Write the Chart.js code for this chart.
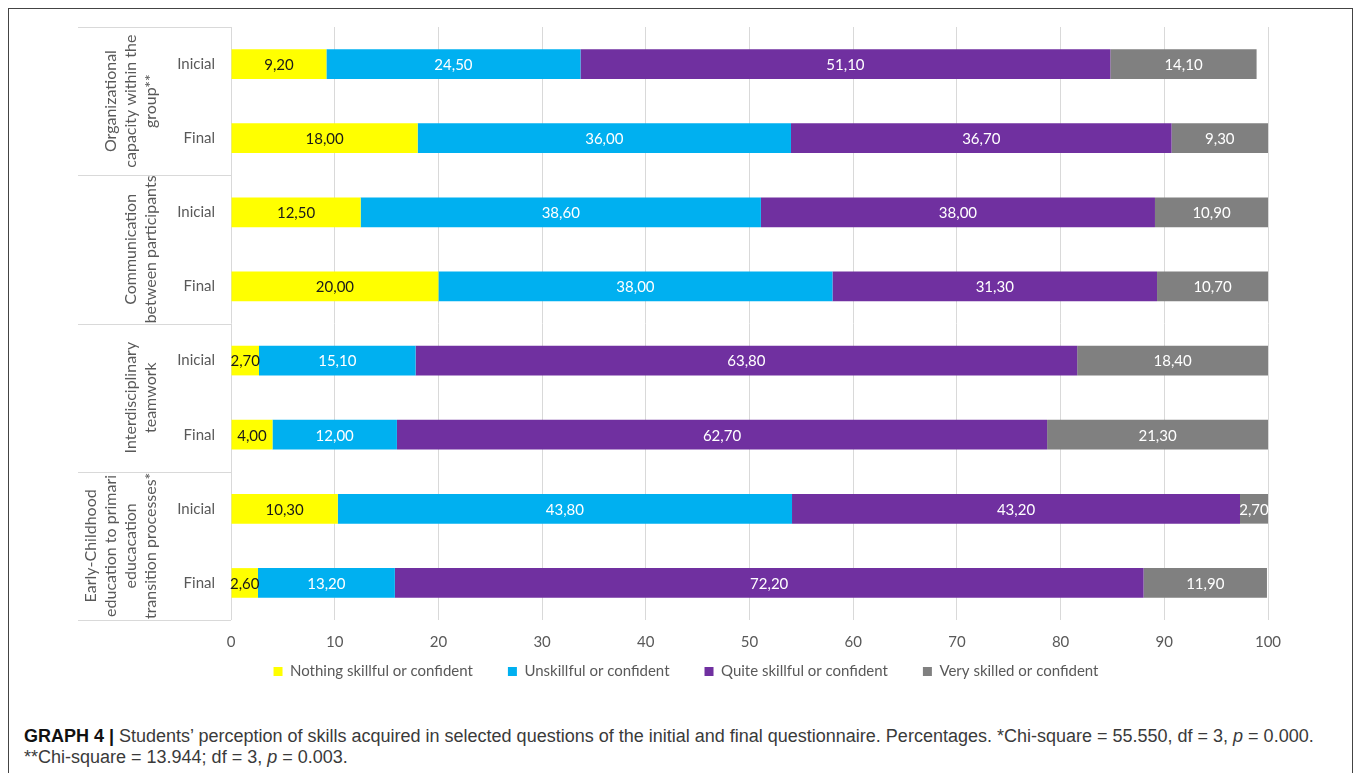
<!DOCTYPE html>
<html>
<head>
<meta charset="utf-8">
<script src="https://cdn.jsdelivr.net/npm/chart.js@4.4.1/dist/chart.umd.min.js"></script>
<style>
  html, body { margin: 0; padding: 0; background: #fff; }
  body { width: 1357px; height: 773px; position: relative; overflow: hidden; }
  #frame { position: absolute; left: 8px; top: 8px; width: 1345px; height: 800px; border: 1px solid #444; box-sizing: border-box; }
  #wrap { position: absolute; left: 0; top: 0; width: 1357px; height: 710px; }
  #caption { position: absolute; left: 24px; top: 726px; font-family: "Liberation Sans", Arial, sans-serif; font-size: 18px; line-height: 21px; color: #3a3a3a; white-space: nowrap; }
  #caption b { color: #111; }
</style>
</head>
<body>
<div id="frame"></div>
<div id="wrap"><canvas id="chart"></canvas></div>
<div id="caption"><b>GRAPH 4 |</b> Students’ perception of skills acquired in selected questions of the initial and final questionnaire. Percentages. *Chi-square = 55.550, df = 3, <i>p</i> = 0.000.<br>**Chi-square = 13.944; df = 3, <i>p</i> = 0.003.</div>
<script>
const categories = ['Inicial', 'Final', 'Inicial', 'Final', 'Inicial', 'Final', 'Inicial', 'Final'];
const groupLabels = [
  ['Organizational', 'capacity within the', 'group**'],
  ['Communication', 'between participants'],
  ['Interdisciplinary', 'teamwork'],
  ['Early-Childhood', 'education to primari', 'educacation', 'transition processes*']
];
const seriesNames = ['Nothing skillful or confident', 'Unskillful or confident', 'Quite skillful or confident', 'Very skilled or confident'];
const nothingSkillful = [9.2, 18.0, 12.5, 20.0, 2.7, 4.0, 10.3, 2.6];
const unskillful = [24.5, 36.0, 38.6, 38.0, 15.1, 12.0, 43.8, 13.2];
const quiteSkillful = [51.1, 36.7, 38.0, 31.3, 63.8, 62.7, 43.2, 72.2];
const verySkilled = [14.1, 9.3, 10.9, 10.7, 18.4, 21.3, 2.7, 11.9];
const xTicks = [0, 10, 20, 30, 40, 50, 60, 70, 80, 90, 100];

const barColors = ['#ffff00', '#00b0f0', '#7030a0', '#808080'];
const labelColors = ['#1a1a1a', '#ffffff', '#ffffff', '#ffffff'];
const chartFont = 'Lato';

// numbers in the bars, comma as decimal separator
const valueLabels = {
  id: 'valueLabels',
  afterDatasetsDraw(chart) {
    const { ctx } = chart;
    ctx.save();
    ctx.font = `15px ${chartFont}`;
    ctx.textAlign = 'center';
    ctx.textBaseline = 'middle';
    chart.data.datasets.forEach((ds, di) => {
      chart.getDatasetMeta(di).data.forEach((bar, i) => {
        ctx.fillStyle = labelColors[di];
        ctx.fillText(ds.data[i].toFixed(2).replace('.', ','), (bar.x + bar.base) / 2, bar.y + 1);
      });
    });
    ctx.restore();
  },
};

// rotated group names + separator lines on the left
const groupAxis = {
  id: 'groupAxis',
  afterDraw(chart) {
    const { ctx, chartArea } = chart;
    const y = chart.scales.y;
    const left = chartArea.left - 153;
    const edge = (i) => {
      if (i === 0) return chartArea.top;
      if (i === categories.length) return chartArea.bottom;
      return (y.getPixelForValue(i - 1) + y.getPixelForValue(i)) / 2;
    };
    ctx.save();
    ctx.strokeStyle = '#d9d9d9';
    ctx.lineWidth = 1;
    for (let g = 0; g <= groupLabels.length; g++) {
      const py = Math.round(edge(g * 2)) + 0.5;
      ctx.beginPath();
      ctx.moveTo(left, py);
      ctx.lineTo(chartArea.left, py);
      ctx.stroke();
    }
    ctx.fillStyle = '#595959';
    ctx.font = `16px ${chartFont}`;
    ctx.textAlign = 'center';
    ctx.textBaseline = 'middle';
    groupLabels.forEach((lines, g) => {
      const cy = (edge(g * 2) + edge(g * 2 + 2)) / 2;
      ctx.save();
      ctx.translate(chartArea.left - 80, cy);
      ctx.rotate(-Math.PI / 2);
      lines.forEach((t, i) => {
        ctx.fillText(t, 0, (i - (lines.length - 1)) * 20);
      });
      ctx.restore();
    });
    ctx.restore();
  },
};

// move the legend row up under the tick labels and centre it like the original
const legendPlace = {
  id: 'legendPlace',
  afterLayout(chart) {
    const lg = chart.legend;
    lg.top -= 21;
    lg.bottom -= 21;
    lg.left += 52;
    lg.right += 52;
  },
};

const seriesData = [nothingSkillful, unskillful, quiteSkillful, verySkilled];

new Chart('chart', {
  type: 'bar',
  data: {
    labels: categories,
    datasets: seriesData.map((d, i) => ({
      label: seriesNames[i],
      data: d,
      backgroundColor: barColors[i],
      barPercentage: 0.4,
      categoryPercentage: 1,
    })),
  },
  options: {
    indexAxis: 'y',
    responsive: true,
    maintainAspectRatio: false,
    animation: false,
    layout: { padding: { top: 27, right: 89, left: 0, bottom: 0 } },
    scales: {
      x: {
        stacked: true,
        min: 0,
        max: 100,
        afterBuildTicks: (s) => { s.ticks = xTicks.map((v) => ({ value: v })); },
        afterFit: (s) => { s.height = 30; },
        ticks: { color: '#595959', font: { family: chartFont, size: 15 }, padding: 13 },
        grid: { color: '#d9d9d9', drawTicks: false },
        border: { display: false },
      },
      y: {
        stacked: true,
        afterFit: (s) => { s.width = 231; },
        ticks: { color: '#595959', font: { family: chartFont, size: 15 }, padding: 16 },
        grid: { display: false, drawTicks: false },
        border: { display: false },
      },
    },
    plugins: {
      legend: {
        position: 'bottom',
        labels: { boxWidth: 9, boxHeight: 9, padding: 35, color: '#595959', font: { family: chartFont, size: 15 } },
      },
      tooltip: { enabled: false },
    },
  },
  plugins: [valueLabels, groupAxis, legendPlace],
});
</script>
</body>
</html>
